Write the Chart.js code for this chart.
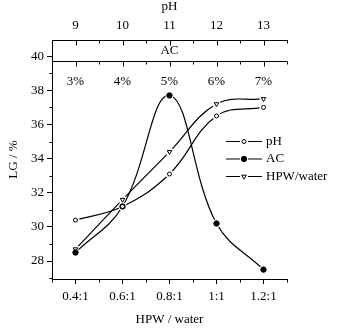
<!DOCTYPE html>
<html lang="en">
<head>
<meta charset="UTF-8">
<title>LG vs HPW/water, pH, AC</title>
<script src="https://cdn.jsdelivr.net/npm/chart.js@4.4.0/dist/chart.umd.min.js"></script>
<style>
  html, body { margin: 0; padding: 0; background: #fff; }
  #wrap { width: 348px; height: 328px; }
</style>
</head>
<body>
<div id="wrap"><canvas id="myChart" width="348" height="328"></canvas></div>
<script>
// data
const ratioVals = [0.4, 0.6, 0.8, 1.0, 1.2]
const ratioLabels = ['0.4:1', '0.6:1', '0.8:1', '1:1', '1.2:1']
const phVals = [9, 10, 11, 12, 13]
const acVals = [3, 4, 5, 6, 7]
const acLabels = ['3%', '4%', '5%', '6%', '7%']
const lgPH = [30.4, 31.2, 33.1, 36.5, 37.0]
const lgAC = [28.5, 31.2, 37.7, 30.2, 27.5]
const lgHPW = [28.7, 31.6, 34.4, 37.2, 37.5]
const yTicks = [28, 30, 32, 34, 36, 38, 40]
const yMinorTicks = [27, 29, 31, 33, 35, 37, 39]
const xMinorTicks = [0.3, 0.5, 0.7, 0.9, 1.1, 1.3]
const seriesNames = ['pH', 'AC', 'HPW/water']
const panelTitle = 'AC'

const Y_MIN = 26.95, Y_MAX = 40.95, AC_LINE = 39.7
const FONT = "'Liberation Serif', 'Times New Roman', serif"

Chart.defaults.font.family = FONT
Chart.defaults.font.size = 13
Chart.defaults.color = '#000'

const markers = [
    { pointStyle: 'circle', pointRadius: 2, pointBackgroundColor: '#fff', pointBorderColor: '#000', pointBorderWidth: 1, rotation: 0 },
    { pointStyle: 'circle', pointRadius: 2.7, pointBackgroundColor: '#000', pointBorderColor: '#000', pointBorderWidth: 1, rotation: 0 },
    { pointStyle: 'triangle', pointRadius: 2.6, pointBackgroundColor: '#fff', pointBorderColor: '#000', pointBorderWidth: 1, rotation: 180 }
]

// each series sits on its own x scale (all three share pixel positions)
const series = [
    { xs: phVals, ys: lgPH, axis: 'xPH' },
    { xs: acVals, ys: lgAC, axis: 'xAC' },
    { xs: ratioVals, ys: lgHPW, axis: 'x' }
]

const datasets = []
series.forEach((s, i) => {
    const pts = s.xs.map((x, k) => ({ x: x, y: s.ys[k] }))
    // line with a white halo at each point (gaps like the original)
    datasets.push({
        label: seriesNames[i], data: pts, xAxisID: s.axis, yAxisID: 'y',
        borderColor: '#000', borderWidth: 1.2, tension: 0.4, fill: false,
        pointRadius: 4, pointBackgroundColor: '#fff', pointBorderWidth: 0,
        order: 1
    })
    datasets.push(Object.assign({
        label: seriesNames[i] + ' marker', data: pts, xAxisID: s.axis, yAxisID: 'y',
        showLine: false, order: 0
    }, markers[i]))
})

function setTicks(arr) {
    return s => { s.ticks = arr.map(v => ({ value: v })) }
}

// AC separator line, inward/minor tick marks and the AC panel caption
const framePlugin = {
    id: 'frameTicks',
    afterDraw(chart) {
        const c = chart.ctx
        const xs = chart.scales.x, ys = chart.scales.y
        const area = chart.chartArea
        const yAC = Math.round(ys.getPixelForValue(AC_LINE)) + 0.5
        const yTop = Math.round(area.top) + 0.5
        const yBot = Math.round(area.bottom) + 0.5
        const xLeft = Math.round(area.left) + 0.5
        c.save()
        c.strokeStyle = '#000'
        c.lineWidth = 1
        c.beginPath()
        c.moveTo(area.left, yAC)
        c.lineTo(area.right, yAC)
        const vtick = (v, y, len) => {
            const px = Math.round(xs.getPixelForValue(v)) + 0.5
            c.moveTo(px, y)
            c.lineTo(px, y + len)
        }
        ratioVals.forEach(v => { vtick(v, yTop, 5); vtick(v, yAC, 5) })
        xMinorTicks.forEach(v => { vtick(v, yTop, 3); vtick(v, yAC, 3); vtick(v, yBot, 3) })
        yMinorTicks.forEach(v => {
            const py = Math.round(ys.getPixelForValue(v)) + 0.5
            c.moveTo(xLeft, py)
            c.lineTo(xLeft - 3, py)
        })
        c.stroke()
        c.fillStyle = '#000'
        c.font = '13px ' + FONT
        c.textAlign = 'center'
        c.textBaseline = 'middle'
        c.fillText(panelTitle, xs.getPixelForValue(0.8), (yTop + yAC) / 2)
        c.restore()
    }
}

const legendPlugin = {
    id: 'lineLegend',
    afterDraw(chart) {
        const c = chart.ctx
        const ys = [141.5, 159, 176.5]
        c.save()
        seriesNames.forEach((name, i) => {
            const y = ys[i]
            c.strokeStyle = '#000'
            c.lineWidth = 1.2
            c.beginPath()
            c.moveTo(226, y)
            c.lineTo(262, y)
            c.stroke()
            c.fillStyle = '#fff'
            c.beginPath()
            c.arc(244, y, 4, 0, Math.PI * 2)
            c.fill()
            const m = markers[i]
            c.fillStyle = m.pointBackgroundColor
            c.strokeStyle = m.pointBorderColor
            c.lineWidth = m.pointBorderWidth
            Chart.helpers.drawPoint(c, { pointStyle: m.pointStyle, radius: m.pointRadius, rotation: m.rotation, borderWidth: 1 }, 244, y)
            c.fillStyle = '#000'
            c.font = '13px ' + FONT
            c.textBaseline = 'middle'
            c.textAlign = 'left'
            c.fillText(name, 266, y)
        })
        c.restore()
    }
}

const ctx = document.getElementById('myChart').getContext('2d')
const myChart = new Chart(ctx, {
    type: 'line',
    data: { datasets: datasets },
    plugins: [framePlugin, legendPlugin],
    options: {
        responsive: false,
        animation: false,
        events: [],
        layout: { padding: { left: 0, right: 61, top: 0, bottom: 0 } },
        plugins: { legend: { display: false }, tooltip: { enabled: false } },
        scales: {
            x: {
                type: 'linear', position: 'bottom', min: 0.3, max: 1.3,
                afterBuildTicks: setTicks(ratioVals),
                afterFit: s => { s.height = 49 },
                border: { display: true, color: '#000', width: 1 },
                grid: { drawOnChartArea: false, tickLength: 5, tickColor: '#000' },
                ticks: { padding: 5, callback: (v, i) => ratioLabels[i] },
                title: { display: true, text: 'HPW / water', padding: { top: 0, bottom: 1 } }
            },
            xPH: {
                type: 'linear', axis: 'x', position: 'top', min: 8.5, max: 13.5,
                afterBuildTicks: setTicks(phVals),
                afterFit: s => { s.height = 40 },
                border: { display: true, color: '#000', width: 1 },
                grid: { drawOnChartArea: false, drawTicks: false },
                ticks: { padding: 7, callback: v => String(v) },
                title: { display: true, text: 'pH', padding: { top: -1, bottom: 0 } }
            },
            xAC: {
                type: 'linear', axis: 'x', position: { y: AC_LINE }, min: 2.5, max: 7.5,
                afterBuildTicks: setTicks(acVals),
                border: { display: false },
                grid: { display: false, drawTicks: false },
                ticks: { padding: 12.5, callback: (v, i) => acLabels[i] }
            },
            y: {
                type: 'linear', position: 'left', min: Y_MIN, max: Y_MAX,
                afterBuildTicks: setTicks(yTicks),
                afterFit: s => { s.width = 52 },
                border: { display: true, color: '#000', width: 1 },
                grid: { drawOnChartArea: false, tickLength: 5, tickColor: '#000' },
                ticks: { padding: 3, callback: v => String(v) },
                title: { display: true, text: 'LG / %', padding: { top: 6, bottom: 0 } }
            }
        }
    }
})
</script>
</body>
</html>
